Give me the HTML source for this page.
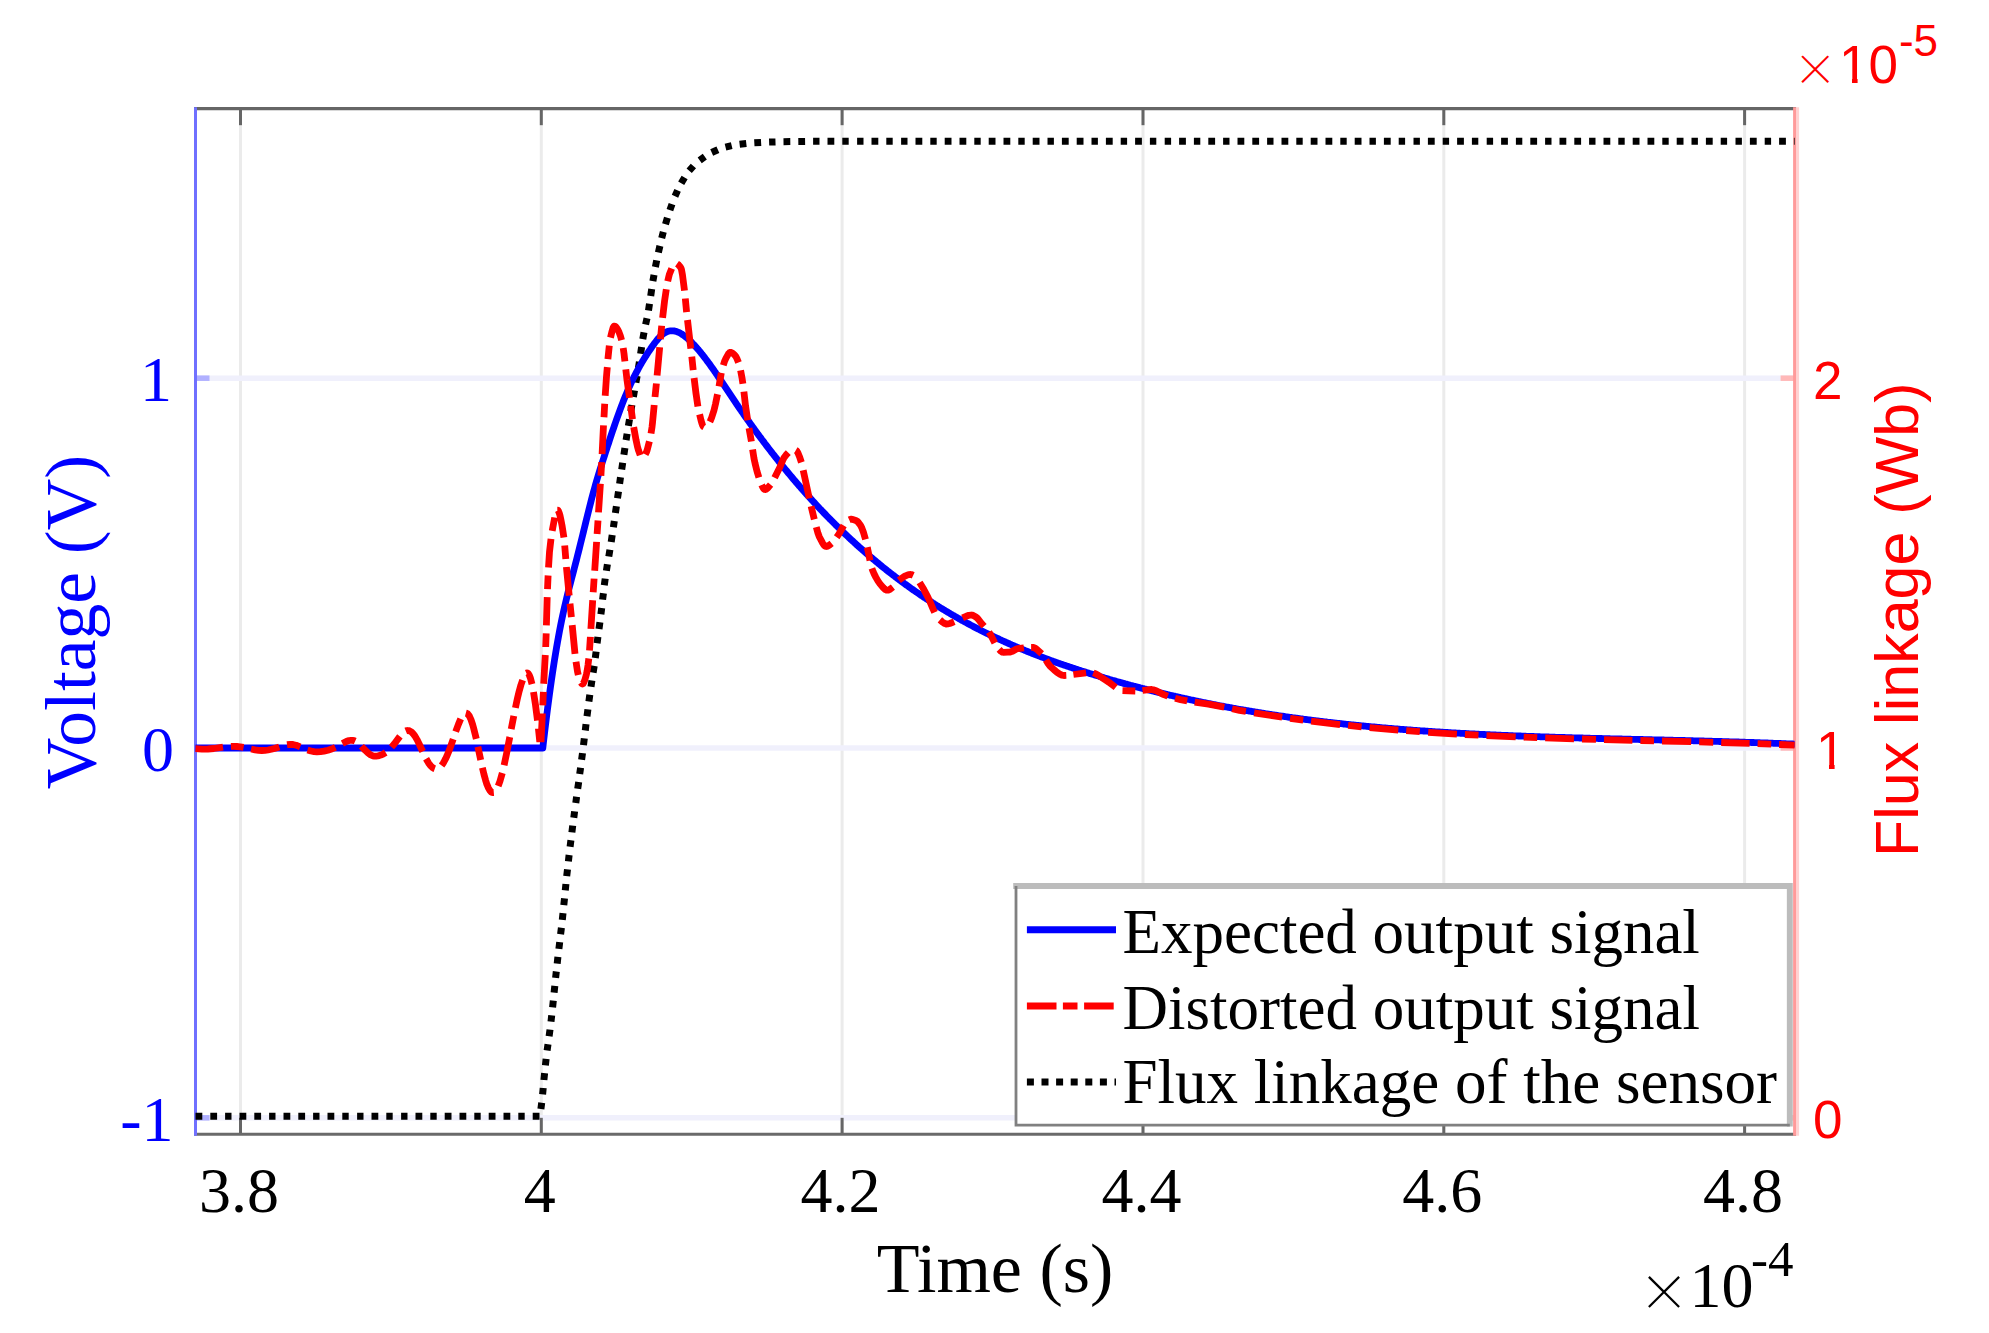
<!DOCTYPE html>
<html><head><meta charset="utf-8"><title>Plot</title>
<style>html,body{margin:0;padding:0;background:#fff;width:1989px;height:1333px;overflow:hidden}svg{display:block}</style>
</head><body>
<svg width="1989" height="1333" viewBox="0 0 1989 1333">
<rect width="1989" height="1333" fill="#fff"/>
<defs><clipPath id="ax"><rect x="194.0" y="108.7" width="1601.6" height="1025.6"/></clipPath><clipPath id="one1"><rect x="0" y="0" width="1989" height="764.9"/><rect x="1829" y="700" width="5.6" height="80"/></clipPath><clipPath id="one2"><rect x="0" y="0" width="1989" height="78.1"/><rect x="1852" y="30" width="5.6" height="60"/></clipPath></defs>
<line x1="240.5" y1="108.7" x2="240.5" y2="1134.3" stroke="#ebebeb" stroke-width="3"/>
<line x1="541.3" y1="108.7" x2="541.3" y2="1134.3" stroke="#ebebeb" stroke-width="3"/>
<line x1="842.1" y1="108.7" x2="842.1" y2="1134.3" stroke="#ebebeb" stroke-width="3"/>
<line x1="1143.0" y1="108.7" x2="1143.0" y2="1134.3" stroke="#ebebeb" stroke-width="3"/>
<line x1="1443.8" y1="108.7" x2="1443.8" y2="1134.3" stroke="#ebebeb" stroke-width="3"/>
<line x1="1744.6" y1="108.7" x2="1744.6" y2="1134.3" stroke="#ebebeb" stroke-width="3"/>
<line x1="195.5" y1="378.2" x2="1794.6" y2="378.2" stroke="#f0f0fc" stroke-width="5.5"/>
<line x1="195.5" y1="748.0" x2="1794.6" y2="748.0" stroke="#f0f0fc" stroke-width="5.5"/>
<line x1="195.5" y1="1117.8" x2="1794.6" y2="1117.8" stroke="#f0f0fc" stroke-width="5.5"/>
<line x1="240.5" y1="108.7" x2="240.5" y2="125.2" stroke="#666" stroke-width="3"/>
<line x1="240.5" y1="1134.3" x2="240.5" y2="1117.8" stroke="#666" stroke-width="3"/>
<line x1="541.3" y1="108.7" x2="541.3" y2="125.2" stroke="#666" stroke-width="3"/>
<line x1="541.3" y1="1134.3" x2="541.3" y2="1117.8" stroke="#666" stroke-width="3"/>
<line x1="842.1" y1="108.7" x2="842.1" y2="125.2" stroke="#666" stroke-width="3"/>
<line x1="842.1" y1="1134.3" x2="842.1" y2="1117.8" stroke="#666" stroke-width="3"/>
<line x1="1143.0" y1="108.7" x2="1143.0" y2="125.2" stroke="#666" stroke-width="3"/>
<line x1="1143.0" y1="1134.3" x2="1143.0" y2="1117.8" stroke="#666" stroke-width="3"/>
<line x1="1443.8" y1="108.7" x2="1443.8" y2="125.2" stroke="#666" stroke-width="3"/>
<line x1="1443.8" y1="1134.3" x2="1443.8" y2="1117.8" stroke="#666" stroke-width="3"/>
<line x1="1744.6" y1="108.7" x2="1744.6" y2="125.2" stroke="#666" stroke-width="3"/>
<line x1="1744.6" y1="1134.3" x2="1744.6" y2="1117.8" stroke="#666" stroke-width="3"/>
<line x1="195.5" y1="378.2" x2="209.5" y2="378.2" stroke="#b0b0ff" stroke-width="5.5"/>
<line x1="1794.6" y1="378.2" x2="1780.6" y2="378.2" stroke="#ffb8b8" stroke-width="5.5"/>
<line x1="195.5" y1="748.0" x2="209.5" y2="748.0" stroke="#b0b0ff" stroke-width="5.5"/>
<line x1="1794.6" y1="748.0" x2="1780.6" y2="748.0" stroke="#ffb8b8" stroke-width="5.5"/>
<line x1="195.5" y1="1117.8" x2="209.5" y2="1117.8" stroke="#b0b0ff" stroke-width="5.5"/>
<line x1="1794.6" y1="1117.8" x2="1780.6" y2="1117.8" stroke="#ffb8b8" stroke-width="5.5"/>
<line x1="194.0" y1="108.7" x2="1796.1" y2="108.7" stroke="#666" stroke-width="3.2"/>
<line x1="194.0" y1="1134.3" x2="1796.1" y2="1134.3" stroke="#6a6a6a" stroke-width="2.9"/>
<line x1="1797.6" y1="107.2" x2="1797.6" y2="1135.8" stroke="#ffd2d2" stroke-width="3"/>
<line x1="1794.6" y1="107.2" x2="1794.6" y2="1135.8" stroke="#ff9a9a" stroke-width="3"/>
<line x1="195.5" y1="107.2" x2="195.5" y2="1135.8" stroke="#7070ff" stroke-width="3"/>
<g clip-path="url(#ax)" fill="none">
<path d="M195.5,1116.3 L202.3,1116.3 M210.3,1116.3 L217.1,1116.3 M225.1,1116.3 L231.5,1116.3 M239.5,1116.3 L246.3,1116.3 M254.3,1116.3 L261.1,1116.3 M269.1,1116.3 L275.5,1116.3 M283.5,1116.3 L290.3,1116.3 M298.3,1116.3 L305.1,1116.3 M313.1,1116.3 L319.5,1116.3 M327.5,1116.3 L334.3,1116.3 M342.3,1116.3 L348.7,1116.3 M357.1,1116.3 L363.5,1116.3 M371.5,1116.3 L378.3,1116.3 M386.3,1116.3 L392.7,1116.3 M401.1,1116.3 L407.5,1116.3 M415.5,1116.3 L422.3,1116.3 M430.3,1116.3 L436.7,1116.3 M444.7,1116.3 L451.5,1116.3 M459.5,1116.3 L466.3,1116.3 M474.3,1116.3 L480.7,1116.3 M488.7,1116.3 L495.5,1116.3 M503.5,1116.3 L510.3,1116.3 M518.3,1116.3 L524.7,1116.3 M532.7,1116.3 L539.5,1116.3 M540.9,1109.0 L541.7,1102.7 M542.6,1094.3 L543.2,1088.0 M543.9,1080.0 L544.6,1073.2 M545.4,1065.3 L546.1,1058.9 M547.1,1050.6 L548.0,1044.2 M549.1,1036.3 L550.0,1029.6 M551.0,1021.6 L551.7,1015.3 M552.6,1007.3 L553.3,1000.6 M554.1,992.6 L554.8,985.8 M555.6,977.9 L556.3,971.5 M557.2,963.6 L557.9,956.8 M558.9,948.9 L559.7,942.1 M560.6,934.2 L561.4,927.8 M562.3,919.8 L563.0,913.1 M563.8,905.1 L564.5,898.4 M565.3,890.4 L565.9,884.0 M566.7,876.1 L567.5,869.3 M568.4,861.4 L569.1,855.0 M570.1,846.7 L570.9,840.3 M571.9,832.4 L572.7,825.6 M573.8,817.7 L574.6,811.4 M575.8,803.0 L576.6,796.7 M577.7,788.8 L578.7,782.0 M579.7,774.1 L580.6,767.8 M581.6,759.8 L582.5,753.1 M583.5,745.1 L584.3,738.4 M585.3,730.5 L586.0,724.1 M587.0,716.2 L587.9,709.4 M588.9,701.5 L589.8,694.7 M591.0,686.8 L591.9,680.5 M593.1,672.6 L594.2,665.9 M595.3,658.0 L596.1,651.6 M597.1,643.3 L597.9,636.9 M599.0,629.0 L599.9,622.3 M600.9,614.3 L601.7,608.0 M602.6,599.6 L603.4,593.3 M604.3,585.3 L605.2,578.6 M606.4,570.7 L607.4,564.3 M608.8,556.5 L609.9,549.8 M611.2,541.9 L612.2,535.1 M613.4,527.2 L614.3,520.9 M615.4,513.0 L616.4,506.2 M617.5,498.3 L618.5,491.6 M619.6,483.7 L620.5,477.3 M621.7,469.4 L622.7,462.7 M623.9,454.8 L624.9,448.1 M626.1,440.1 L627.1,433.8 M628.4,425.9 L629.5,419.2 M630.8,411.3 L631.9,405.0 M633.4,396.8 L634.5,390.5 M635.9,382.6 L637.1,375.9 M638.4,368.0 L639.4,361.7 M640.6,353.8 L641.6,347.0 M642.8,339.1 L644.0,332.4 M645.6,324.6 L647.0,318.3 M648.5,310.5 L649.5,303.8 M650.7,295.9 L651.7,289.1 M652.9,281.2 L654.0,274.9 M655.4,267.0 L656.7,260.4 M658.4,252.5 L659.9,245.9 M661.7,238.1 L663.3,231.9 M665.5,224.2 L667.4,217.7 M669.9,210.1 L672.0,204.1 M675.0,196.2 L677.6,190.4 M681.2,183.2 L684.6,177.4 M689.2,170.8 L693.4,166.0 M699.7,160.3 L704.8,156.6 M711.7,152.5 L715.0,151.0 L717.9,149.7 M725.5,147.1 L731.7,145.6 M739.6,144.2 L746.3,143.4 M754.3,142.8 L761.1,142.4 M769.1,142.1 L775.5,141.9 M783.5,141.7 L790.3,141.6 M798.3,141.5 L805.1,141.4 M813.1,141.3 L819.5,141.3 M827.5,141.3 L834.3,141.3 M842.3,141.3 L848.7,141.3 M857.1,141.3 L863.5,141.3 M871.5,141.3 L878.3,141.3 M886.3,141.3 L892.7,141.3 M901.1,141.3 L907.5,141.3 M915.5,141.3 L922.3,141.3 M930.3,141.3 L936.7,141.3 M944.7,141.3 L951.5,141.3 M959.5,141.3 L966.3,141.3 M974.3,141.3 L980.7,141.3 M988.7,141.3 L995.5,141.3 M1003.5,141.3 L1010.3,141.3 M1018.3,141.3 L1024.7,141.3 M1032.7,141.3 L1039.5,141.3 M1047.5,141.3 L1053.9,141.3 M1061.9,141.3 L1068.7,141.3 M1076.7,141.3 L1083.5,141.3 M1091.5,141.3 L1097.9,141.3 M1105.9,141.3 L1112.7,141.3 M1120.7,141.3 L1127.1,141.3 M1135.1,141.3 L1141.9,141.3 M1149.9,141.3 L1156.3,141.3 M1164.7,141.3 L1171.1,141.3 M1179.1,141.3 L1185.9,141.3 M1193.9,141.3 L1200.3,141.3 M1208.3,141.3 L1215.1,141.3 M1223.1,141.3 L1229.5,141.3 M1237.5,141.3 L1244.3,141.3 M1252.3,141.3 L1259.1,141.3 M1267.1,141.3 L1273.5,141.3 M1281.5,141.3 L1288.3,141.3 M1296.3,141.3 L1302.7,141.3 M1310.7,141.3 L1317.5,141.3 M1325.5,141.3 L1332.3,141.3 M1340.3,141.3 L1346.7,141.3 M1354.7,141.3 L1361.5,141.3 M1369.5,141.3 L1375.9,141.3 M1383.9,141.3 L1390.7,141.3 M1398.7,141.3 L1405.1,141.3 M1413.5,141.3 L1419.9,141.3 M1427.9,141.3 L1434.7,141.3 M1442.7,141.3 L1449.1,141.3 M1457.1,141.3 L1463.9,141.3 M1471.9,141.3 L1478.3,141.3 M1486.7,141.3 L1493.1,141.3 M1501.1,141.3 L1507.9,141.3 M1515.9,141.3 L1522.3,141.3 M1530.3,141.3 L1537.1,141.3 M1545.1,141.3 L1551.5,141.3 M1559.5,141.3 L1566.3,141.3 M1574.3,141.3 L1581.1,141.3 M1589.1,141.3 L1595.5,141.3 M1603.5,141.3 L1610.3,141.3 M1618.3,141.3 L1624.7,141.3 M1632.7,141.3 L1639.5,141.3 M1647.5,141.3 L1654.3,141.3 M1662.3,141.3 L1668.7,141.3 M1676.7,141.3 L1683.5,141.3 M1691.5,141.3 L1697.9,141.3 M1705.9,141.3 L1712.7,141.3 M1720.7,141.3 L1727.1,141.3 M1735.5,141.3 L1741.9,141.3 M1749.9,141.3 L1756.7,141.3 M1764.7,141.3 L1771.1,141.3 M1779.1,141.3 L1785.9,141.3 M1793.9,141.3 L1794.6,141.3" stroke="#000" stroke-width="7"/>
<polyline points="195.5,748.0 542.8,748.0 543.5,741.9 544.5,733.4 545.5,725.1 546.5,717.0 547.5,709.1 548.5,701.5 549.5,694.0 550.5,686.8 551.5,679.8 552.5,673.0 553.5,666.4 554.5,660.0 555.5,653.9 556.5,647.9 557.5,642.1 558.5,636.6 559.5,631.2 560.5,626.0 561.5,621.0 562.5,616.3 563.5,611.6 564.5,607.2 565.5,602.9 566.5,598.7 567.5,594.6 568.5,590.6 569.5,586.7 570.5,582.8 571.5,578.9 572.5,575.1 573.5,571.3 574.5,567.5 575.5,563.6 576.5,559.8 577.5,555.8 578.5,551.9 579.5,547.9 580.5,543.8 581.5,539.8 582.5,535.7 583.5,531.6 584.5,527.5 585.5,523.4 586.5,519.3 587.5,515.2 588.5,511.2 589.5,507.2 590.5,503.3 591.5,499.4 592.5,495.6 593.5,491.9 594.5,488.3 595.5,484.7 596.5,481.3 597.5,477.9 598.5,474.6 599.5,471.3 600.5,468.1 601.5,464.9 602.5,461.8 603.5,458.7 604.5,455.6 605.5,452.5 606.5,449.4 607.5,446.3 608.5,443.3 609.5,440.2 610.5,437.2 611.5,434.2 612.5,431.2 613.5,428.3 614.5,425.4 615.5,422.5 616.5,419.7 617.5,416.9 618.5,414.1 619.5,411.3 620.5,408.6 621.5,406.0 622.5,403.4 623.5,400.8 624.5,398.3 625.5,395.9 626.5,393.5 627.5,391.1 628.5,388.8 629.5,386.5 630.5,384.4 631.5,382.2 632.5,380.1 633.5,378.0 634.5,376.0 635.5,374.1 636.5,372.2 637.5,370.3 638.5,368.4 639.5,366.6 640.5,364.9 641.5,363.1 642.5,361.4 643.5,359.8 644.5,358.1 645.5,356.5 646.5,355.0 647.5,353.4 648.5,351.9 649.5,350.4 650.5,349.0 651.5,347.5 652.5,346.1 653.5,344.7 654.5,343.3 655.5,342.0 656.5,340.7 657.5,339.5 658.5,338.3 659.5,337.2 660.5,336.2 661.5,335.3 662.5,334.4 663.5,333.6 664.5,333.0 665.5,332.4 666.5,331.9 667.5,331.5 668.5,331.2 669.5,331.0 670.5,330.8 671.5,330.8 672.5,330.8 673.5,330.9 674.5,331.0 675.5,331.3 676.5,331.6 677.5,331.9 678.5,332.3 679.5,332.8 680.5,333.3 681.5,333.9 682.5,334.6 683.5,335.3 684.5,336.0 685.5,336.8 686.5,337.6 687.5,338.4 688.5,339.3 689.5,340.3 690.5,341.2 691.5,342.2 692.5,343.3 693.5,344.3 694.5,345.4 695.5,346.5 696.5,347.6 697.5,348.8 698.5,349.9 699.5,351.1 700.5,352.3 701.5,353.6 702.5,354.8 703.5,356.1 704.5,357.4 705.5,358.7 706.5,360.0 707.5,361.4 708.5,362.7 709.5,364.1 710.5,365.5 711.5,366.9 712.5,368.3 713.5,369.7 714.5,371.2 715.5,372.6 716.5,374.1 717.5,375.5 718.5,377.0 719.5,378.5 720.5,379.9 721.5,381.4 722.5,382.9 723.5,384.4 724.5,385.9 725.5,387.4 726.5,388.9 727.5,390.4 728.5,391.9 729.5,393.4 730.5,394.9 731.5,396.4 732.5,397.9 733.5,399.4 734.5,400.9 735.5,402.4 736.5,403.9 737.5,405.3 738.5,406.8 739.5,408.3 740.5,409.7 741.5,411.2 742.5,412.6 743.5,414.0 744.5,415.5 745.5,416.9 746.5,418.3 747.5,419.7 748.5,421.1 749.5,422.5 750.5,423.9 751.5,425.3 752.5,426.7 753.5,428.1 754.5,429.5 755.5,430.9 756.5,432.2 757.5,433.6 758.5,434.9 759.5,436.3 760.5,437.6 761.5,439.0 762.5,440.3 763.5,441.6 764.5,443.0 765.5,444.3 766.5,445.6 767.5,446.9 768.5,448.2 769.5,449.5 770.5,450.8 771.5,452.1 772.5,453.4 773.5,454.6 774.5,455.9 775.5,457.2 776.5,458.4 777.5,459.7 778.5,461.0 779.5,462.2 780.5,463.5 781.5,464.7 782.5,465.9 783.5,467.2 784.5,468.4 785.5,469.6 786.5,470.8 787.5,472.0 788.5,473.2 789.5,474.4 790.5,475.6 791.5,476.8 792.5,478.0 793.5,479.2 794.5,480.4 795.5,481.5 796.5,482.7 797.5,483.9 798.5,485.0 799.5,486.2 800.5,487.3 801.5,488.5 802.5,489.6 803.5,490.7 804.5,491.9 805.5,493.0 806.5,494.1 807.5,495.2 808.5,496.3 809.5,497.4 810.5,498.5 811.5,499.6 812.5,500.7 813.5,501.8 814.5,502.9 815.5,504.0 816.5,505.1 817.5,506.1 818.5,507.2 819.5,508.3 820.5,509.3 821.5,510.4 822.5,511.4 823.5,512.5 824.5,513.5 825.5,514.5 826.5,515.6 827.5,516.6 828.5,517.6 829.5,518.6 830.5,519.7 831.5,520.7 832.5,521.7 833.5,522.7 834.5,523.7 835.5,524.7 836.5,525.6 837.5,526.6 838.5,527.6 839.5,528.6 840.5,529.6 841.5,530.5 842.5,531.5 843.5,532.5 844.5,533.4 845.5,534.4 846.5,535.3 847.5,536.2 848.5,537.2 849.5,538.1 850.5,539.1 851.5,540.0 852.5,540.9 853.5,541.8 854.5,542.7 855.5,543.6 856.5,544.6 857.5,545.5 858.5,546.4 859.5,547.3 860.5,548.1 861.5,549.0 862.5,549.9 863.5,550.8 864.5,551.7 865.5,552.5 866.5,553.4 867.5,554.3 868.5,555.1 869.5,556.0 870.5,556.8 871.5,557.7 872.5,558.5 873.5,559.4 874.5,560.2 875.5,561.0 876.5,561.9 877.5,562.7 878.5,563.5 879.5,564.3 880.5,565.2 881.5,566.0 882.5,566.8 883.5,567.6 884.5,568.4 885.5,569.2 886.5,570.0 887.5,570.8 888.5,571.6 889.5,572.3 890.5,573.1 891.5,573.9 892.5,574.7 893.5,575.4 894.5,576.2 895.5,577.0 896.5,577.7 897.5,578.5 898.5,579.2 899.5,580.0 900.5,580.7 901.5,581.5 902.5,582.2 903.5,582.9 904.5,583.7 905.5,584.4 906.5,585.1 907.5,585.8 908.5,586.5 909.5,587.3 910.5,588.0 911.5,588.7 912.5,589.4 913.5,590.1 914.5,590.8 915.5,591.5 916.5,592.2 917.5,592.8 918.5,593.5 919.5,594.2 920.5,594.9 921.5,595.6 922.5,596.2 923.5,596.9 924.5,597.6 925.5,598.2 926.5,598.9 927.5,599.5 928.5,600.2 929.5,600.8 930.5,601.5 931.5,602.1 932.5,602.8 933.5,603.4 934.5,604.1 935.5,604.7 936.5,605.3 937.5,605.9 938.5,606.6 939.5,607.2 940.5,607.8 941.5,608.4 942.5,609.0 943.5,609.6 944.5,610.2 945.5,610.8 946.5,611.4 947.5,612.0 948.5,612.6 949.5,613.2 950.5,613.8 951.5,614.4 952.5,615.0 953.5,615.5 954.5,616.1 955.5,616.7 956.5,617.3 957.5,617.8 958.5,618.4 959.5,619.0 960.5,619.5 961.5,620.1 962.5,620.6 963.5,621.2 964.5,621.7 965.5,622.3 966.5,622.8 967.5,623.4 968.5,623.9 969.5,624.4 970.5,625.0 971.5,625.5 972.5,626.0 973.5,626.6 974.5,627.1 975.5,627.6 976.5,628.1 977.5,628.6 978.5,629.1 979.5,629.7 980.5,630.2 981.5,630.7 982.5,631.2 983.5,631.7 984.5,632.2 985.5,632.7 986.5,633.2 987.5,633.7 988.5,634.1 989.5,634.6 990.5,635.1 991.5,635.6 992.5,636.1 993.5,636.6 994.5,637.0 995.5,637.5 996.5,638.0 997.5,638.4 998.5,638.9 999.5,639.4 1000.5,639.8 1001.5,640.3 1002.5,640.7 1003.5,641.2 1004.5,641.6 1005.5,642.1 1006.5,642.5 1007.5,643.0 1008.5,643.4 1009.5,643.9 1010.5,644.3 1011.5,644.8 1012.5,645.2 1013.5,645.6 1014.5,646.1 1015.5,646.5 1016.5,646.9 1017.5,647.3 1018.5,647.8 1019.5,648.2 1020.5,648.6 1021.5,649.0 1022.5,649.4 1023.5,649.8 1024.5,650.3 1025.5,650.7 1026.5,651.1 1027.5,651.5 1028.5,651.9 1029.5,652.3 1030.5,652.7 1031.5,653.1 1032.5,653.5 1033.5,653.9 1034.5,654.3 1035.5,654.7 1036.5,655.0 1037.5,655.4 1038.5,655.8 1039.5,656.2 1040.5,656.6 1041.5,657.0 1042.5,657.3 1043.5,657.7 1044.5,658.1 1045.5,658.5 1046.5,658.8 1047.5,659.2 1048.5,659.6 1049.5,659.9 1050.5,660.3 1051.5,660.7 1052.5,661.0 1053.5,661.4 1054.5,661.7 1055.5,662.1 1056.5,662.5 1057.5,662.8 1058.5,663.2 1059.5,663.5 1060.5,663.9 1061.5,664.2 1062.5,664.6 1063.5,664.9 1064.5,665.3 1065.5,665.6 1066.5,665.9 1067.5,666.3 1068.5,666.6 1069.5,666.9 1070.5,667.3 1071.5,667.6 1072.5,667.9 1073.5,668.3 1074.5,668.6 1075.5,668.9 1076.5,669.3 1077.5,669.6 1078.5,669.9 1079.5,670.2 1080.5,670.6 1081.5,670.9 1082.5,671.2 1083.5,671.5 1084.5,671.8 1085.5,672.1 1086.5,672.5 1087.5,672.8 1088.5,673.1 1089.5,673.4 1090.5,673.7 1091.5,674.0 1092.5,674.3 1093.5,674.6 1094.5,674.9 1095.5,675.2 1096.5,675.5 1097.5,675.8 1098.5,676.1 1099.5,676.4 1100.5,676.7 1101.5,677.0 1102.5,677.3 1103.5,677.6 1104.5,677.9 1105.5,678.2 1106.5,678.5 1107.5,678.8 1108.5,679.1 1109.5,679.4 1110.5,679.7 1111.5,680.0 1112.5,680.3 1113.5,680.5 1114.5,680.8 1115.5,681.1 1116.5,681.4 1117.5,681.7 1118.5,682.0 1119.5,682.2 1120.5,682.5 1121.5,682.8 1122.5,683.1 1123.5,683.4 1124.5,683.6 1125.5,683.9 1126.5,684.2 1127.5,684.4 1128.5,684.7 1129.5,685.0 1130.5,685.3 1131.5,685.5 1132.5,685.8 1133.5,686.1 1134.5,686.3 1135.5,686.6 1136.5,686.9 1137.5,687.1 1138.5,687.4 1139.5,687.6 1140.5,687.9 1141.5,688.2 1142.5,688.4 1143.5,688.7 1144.5,688.9 1145.5,689.2 1146.5,689.4 1147.5,689.7 1148.5,690.0 1149.5,690.2 1150.5,690.5 1151.5,690.7 1152.5,691.0 1153.5,691.2 1154.5,691.4 1155.5,691.7 1156.5,691.9 1157.5,692.2 1158.5,692.4 1159.5,692.7 1160.5,692.9 1161.5,693.2 1162.5,693.4 1163.5,693.6 1164.5,693.9 1165.5,694.1 1166.5,694.3 1167.5,694.6 1168.5,694.8 1169.5,695.1 1170.5,695.3 1171.5,695.5 1172.5,695.7 1173.5,696.0 1174.5,696.2 1175.5,696.4 1176.5,696.7 1177.5,696.9 1178.5,697.1 1179.5,697.3 1180.5,697.6 1181.5,697.8 1182.5,698.0 1183.5,698.2 1184.5,698.5 1185.5,698.7 1186.5,698.9 1187.5,699.1 1188.5,699.3 1189.5,699.5 1190.5,699.8 1191.5,700.0 1192.5,700.2 1193.5,700.4 1194.5,700.6 1195.5,700.8 1196.5,701.0 1197.5,701.2 1198.5,701.5 1199.5,701.7 1200.5,701.9 1201.5,702.1 1202.5,702.3 1203.5,702.5 1204.5,702.7 1205.5,702.9 1206.5,703.1 1207.5,703.3 1208.5,703.5 1209.5,703.7 1210.5,703.9 1211.5,704.1 1212.5,704.3 1213.5,704.5 1214.5,704.7 1215.5,704.9 1216.5,705.1 1217.5,705.3 1218.5,705.5 1219.5,705.7 1220.5,705.8 1221.5,706.0 1222.5,706.2 1223.5,706.4 1224.5,706.6 1225.5,706.8 1226.5,707.0 1227.5,707.2 1228.5,707.4 1229.5,707.5 1230.5,707.7 1231.5,707.9 1232.5,708.1 1233.5,708.3 1234.5,708.4 1235.5,708.6 1236.5,708.8 1237.5,709.0 1238.5,709.2 1239.5,709.3 1240.5,709.5 1241.5,709.7 1242.5,709.9 1243.5,710.0 1244.5,710.2 1245.5,710.4 1246.5,710.6 1247.5,710.7 1248.5,710.9 1249.5,711.1 1250.5,711.2 1251.5,711.4 1252.5,711.6 1253.5,711.7 1254.5,711.9 1255.5,712.1 1256.5,712.2 1257.5,712.4 1258.5,712.6 1259.5,712.7 1260.5,712.9 1261.5,713.0 1262.5,713.2 1263.5,713.4 1264.5,713.5 1265.5,713.7 1266.5,713.8 1267.5,714.0 1268.5,714.1 1269.5,714.3 1270.5,714.4 1271.5,714.6 1272.5,714.8 1273.5,714.9 1274.5,715.1 1275.5,715.2 1276.5,715.4 1277.5,715.5 1278.5,715.7 1279.5,715.8 1280.5,716.0 1281.5,716.1 1282.5,716.2 1283.5,716.4 1284.5,716.5 1285.5,716.7 1286.5,716.8 1287.5,717.0 1288.5,717.1 1289.5,717.3 1290.5,717.4 1291.5,717.5 1292.5,717.7 1293.5,717.8 1294.5,717.9 1295.5,718.1 1296.5,718.2 1297.5,718.4 1298.5,718.5 1299.5,718.6 1300.5,718.8 1301.5,718.9 1302.5,719.0 1303.5,719.2 1304.5,719.3 1305.5,719.4 1306.5,719.6 1307.5,719.7 1308.5,719.8 1309.5,719.9 1310.5,720.1 1311.5,720.2 1312.5,720.3 1313.5,720.5 1314.5,720.6 1315.5,720.7 1316.5,720.8 1317.5,720.9 1318.5,721.1 1319.5,721.2 1320.5,721.3 1321.5,721.4 1322.5,721.6 1323.5,721.7 1324.5,721.8 1325.5,721.9 1326.5,722.0 1327.5,722.2 1328.5,722.3 1329.5,722.4 1330.5,722.5 1331.5,722.6 1332.5,722.7 1333.5,722.8 1334.5,723.0 1335.5,723.1 1336.5,723.2 1337.5,723.3 1338.5,723.4 1339.5,723.5 1340.5,723.6 1341.5,723.7 1342.5,723.8 1343.5,724.0 1344.5,724.1 1345.5,724.2 1346.5,724.3 1347.5,724.4 1348.5,724.5 1349.5,724.6 1350.5,724.7 1351.5,724.8 1352.5,724.9 1353.5,725.0 1354.5,725.1 1355.5,725.2 1356.5,725.3 1357.5,725.4 1358.5,725.5 1359.5,725.6 1360.5,725.7 1361.5,725.8 1362.5,725.9 1363.5,726.0 1364.5,726.1 1365.5,726.2 1366.5,726.3 1367.5,726.4 1368.5,726.5 1369.5,726.6 1370.5,726.7 1371.5,726.8 1372.5,726.9 1373.5,727.0 1374.5,727.0 1375.5,727.1 1376.5,727.2 1377.5,727.3 1378.5,727.4 1379.5,727.5 1380.5,727.6 1381.5,727.7 1382.5,727.8 1383.5,727.9 1384.5,727.9 1385.5,728.0 1386.5,728.1 1387.5,728.2 1388.5,728.3 1389.5,728.4 1390.5,728.5 1391.5,728.5 1392.5,728.6 1393.5,728.7 1394.5,728.8 1395.5,728.9 1396.5,728.9 1397.5,729.0 1398.5,729.1 1399.5,729.2 1400.5,729.3 1401.5,729.3 1402.5,729.4 1403.5,729.5 1404.5,729.6 1405.5,729.7 1406.5,729.7 1407.5,729.8 1408.5,729.9 1409.5,730.0 1410.5,730.0 1411.5,730.1 1412.5,730.2 1413.5,730.3 1414.5,730.3 1415.5,730.4 1416.5,730.5 1417.5,730.6 1418.5,730.6 1419.5,730.7 1420.5,730.8 1421.5,730.8 1422.5,730.9 1423.5,731.0 1424.5,731.0 1425.5,731.1 1426.5,731.2 1427.5,731.2 1428.5,731.3 1429.5,731.4 1430.5,731.5 1431.5,731.5 1432.5,731.6 1433.5,731.6 1434.5,731.7 1435.5,731.8 1436.5,731.8 1437.5,731.9 1438.5,732.0 1439.5,732.0 1440.5,732.1 1441.5,732.2 1442.5,732.2 1443.5,732.3 1444.5,732.3 1445.5,732.4 1446.5,732.5 1447.5,732.5 1448.5,732.6 1449.5,732.6 1450.5,732.7 1451.5,732.8 1452.5,732.8 1453.5,732.9 1454.5,732.9 1455.5,733.0 1456.5,733.1 1457.5,733.1 1458.5,733.2 1459.5,733.2 1460.5,733.3 1461.5,733.3 1462.5,733.4 1463.5,733.4 1464.5,733.5 1465.5,733.5 1466.5,733.6 1467.5,733.7 1468.5,733.7 1469.5,733.8 1470.5,733.8 1471.5,733.9 1472.5,733.9 1473.5,734.0 1474.5,734.0 1475.5,734.1 1476.5,734.1 1477.5,734.2 1478.5,734.2 1479.5,734.3 1480.5,734.3 1481.5,734.4 1482.5,734.4 1483.5,734.5 1484.5,734.5 1485.5,734.6 1486.5,734.6 1487.5,734.7 1488.5,734.7 1489.5,734.7 1490.5,734.8 1491.5,734.8 1492.5,734.9 1493.5,734.9 1494.5,735.0 1495.5,735.0 1496.5,735.1 1497.5,735.1 1498.5,735.1 1499.5,735.2 1500.5,735.2 1501.5,735.3 1502.5,735.3 1503.5,735.4 1504.5,735.4 1505.5,735.4 1506.5,735.5 1507.5,735.5 1508.5,735.6 1509.5,735.6 1510.5,735.7 1511.5,735.7 1512.5,735.7 1513.5,735.8 1514.5,735.8 1515.5,735.9 1516.5,735.9 1517.5,735.9 1518.5,736.0 1519.5,736.0 1520.5,736.0 1521.5,736.1 1522.5,736.1 1523.5,736.2 1524.5,736.2 1525.5,736.2 1526.5,736.3 1527.5,736.3 1528.5,736.3 1529.5,736.4 1530.5,736.4 1531.5,736.5 1532.5,736.5 1533.5,736.5 1534.5,736.6 1535.5,736.6 1536.5,736.6 1537.5,736.7 1538.5,736.7 1539.5,736.7 1540.5,736.8 1541.5,736.8 1542.5,736.8 1543.5,736.9 1544.5,736.9 1545.5,736.9 1546.5,737.0 1547.5,737.0 1548.5,737.0 1549.5,737.1 1550.5,737.1 1551.5,737.1 1552.5,737.2 1553.5,737.2 1554.5,737.2 1555.5,737.3 1556.5,737.3 1557.5,737.3 1558.5,737.3 1559.5,737.4 1560.5,737.4 1561.5,737.4 1562.5,737.5 1563.5,737.5 1564.5,737.5 1565.5,737.6 1566.5,737.6 1567.5,737.6 1568.5,737.6 1569.5,737.7 1570.5,737.7 1571.5,737.7 1572.5,737.8 1573.5,737.8 1574.5,737.8 1575.5,737.8 1576.5,737.9 1577.5,737.9 1578.5,737.9 1579.5,738.0 1580.5,738.0 1581.5,738.0 1582.5,738.0 1583.5,738.1 1584.5,738.1 1585.5,738.1 1586.5,738.1 1587.5,738.2 1588.5,738.2 1589.5,738.2 1590.5,738.3 1591.5,738.3 1592.5,738.3 1593.5,738.3 1594.5,738.4 1595.5,738.4 1596.5,738.4 1597.5,738.4 1598.5,738.5 1599.5,738.5 1600.5,738.5 1601.5,738.5 1602.5,738.6 1603.5,738.6 1604.5,738.6 1605.5,738.6 1606.5,738.7 1607.5,738.7 1608.5,738.7 1609.5,738.7 1610.5,738.8 1611.5,738.8 1612.5,738.8 1613.5,738.8 1614.5,738.9 1615.5,738.9 1616.5,738.9 1617.5,738.9 1618.5,739.0 1619.5,739.0 1620.5,739.0 1621.5,739.0 1622.5,739.1 1623.5,739.1 1624.5,739.1 1625.5,739.1 1626.5,739.2 1627.5,739.2 1628.5,739.2 1629.5,739.2 1630.5,739.2 1631.5,739.3 1632.5,739.3 1633.5,739.3 1634.5,739.3 1635.5,739.4 1636.5,739.4 1637.5,739.4 1638.5,739.4 1639.5,739.5 1640.5,739.5 1641.5,739.5 1642.5,739.5 1643.5,739.6 1644.5,739.6 1645.5,739.6 1646.5,739.6 1647.5,739.6 1648.5,739.7 1649.5,739.7 1650.5,739.7 1651.5,739.7 1652.5,739.8 1653.5,739.8 1654.5,739.8 1655.5,739.8 1656.5,739.9 1657.5,739.9 1658.5,739.9 1659.5,739.9 1660.5,740.0 1661.5,740.0 1662.5,740.0 1663.5,740.0 1664.5,740.1 1665.5,740.1 1666.5,740.1 1667.5,740.1 1668.5,740.1 1669.5,740.2 1670.5,740.2 1671.5,740.2 1672.5,740.2 1673.5,740.3 1674.5,740.3 1675.5,740.3 1676.5,740.3 1677.5,740.4 1678.5,740.4 1679.5,740.4 1680.5,740.4 1681.5,740.5 1682.5,740.5 1683.5,740.5 1684.5,740.5 1685.5,740.6 1686.5,740.6 1687.5,740.6 1688.5,740.6 1689.5,740.7 1690.5,740.7 1691.5,740.7 1692.5,740.7 1693.5,740.8 1694.5,740.8 1695.5,740.8 1696.5,740.8 1697.5,740.9 1698.5,740.9 1699.5,740.9 1700.5,740.9 1701.5,741.0 1702.5,741.0 1703.5,741.0 1704.5,741.1 1705.5,741.1 1706.5,741.1 1707.5,741.1 1708.5,741.2 1709.5,741.2 1710.5,741.2 1711.5,741.2 1712.5,741.3 1713.5,741.3 1714.5,741.3 1715.5,741.4 1716.5,741.4 1717.5,741.4 1718.5,741.4 1719.5,741.5 1720.5,741.5 1721.5,741.5 1722.5,741.6 1723.5,741.6 1724.5,741.6 1725.5,741.6 1726.5,741.7 1727.5,741.7 1728.5,741.7 1729.5,741.8 1730.5,741.8 1731.5,741.8 1732.5,741.8 1733.5,741.9 1734.5,741.9 1735.5,741.9 1736.5,742.0 1737.5,742.0 1738.5,742.0 1739.5,742.1 1740.5,742.1 1741.5,742.1 1742.5,742.2 1743.5,742.2 1744.5,742.2 1745.5,742.3 1746.5,742.3 1747.5,742.3 1748.5,742.4 1749.5,742.4 1750.5,742.4 1751.5,742.5 1752.5,742.5 1753.5,742.5 1754.5,742.6 1755.5,742.6 1756.5,742.6 1757.5,742.7 1758.5,742.7 1759.5,742.7 1760.5,742.8 1761.5,742.8 1762.5,742.8 1763.5,742.9 1764.5,742.9 1765.5,742.9 1766.5,743.0 1767.5,743.0 1768.5,743.1 1769.5,743.1 1770.5,743.1 1771.5,743.2 1772.5,743.2 1773.5,743.3 1774.5,743.3 1775.5,743.3 1776.5,743.4 1777.5,743.4 1778.5,743.4 1779.5,743.5 1780.5,743.5 1781.5,743.6 1782.5,743.6 1783.5,743.6 1784.5,743.7 1785.5,743.7 1786.5,743.8 1787.5,743.8 1788.5,743.9 1789.5,743.9 1790.5,743.9 1791.5,744.0 1792.5,744.0 1793.5,744.1 1794.5,744.1 1794.6,744.1" stroke="#0000ff" stroke-width="6.8" stroke-linejoin="round"/>
<path d="M195.5,748.7 L201.9,749.1 L207.9,749.0 L213.9,748.5 L223.0,747.1 M230.9,746.4 L234.1,746.3 L236.9,746.5 L240.1,746.8 L243.6,747.4 M251.1,749.0 L255.0,749.8 L258.6,750.3 L261.8,750.5 L265.0,750.4 L268.1,750.0 L271.3,749.3 L274.3,748.5 L279.3,746.9 M287.0,744.7 L290.5,744.3 L292.9,744.5 L296.1,745.2 L300.2,746.8 M307.5,750.0 L310.9,751.0 L314.1,751.6 L316.9,751.8 L320.5,751.6 L324.0,751.1 L327.9,750.2 L331.7,749.0 L335.4,747.3 M342.4,743.5 L346.3,741.5 L347.8,740.9 L349.3,740.5 L350.9,740.3 L352.5,740.4 L354.1,740.7 L355.2,741.2 M361.4,746.2 L365.5,750.6 L368.1,753.0 L370.7,754.9 L372.9,755.8 L374.5,756.1 L376.1,756.1 L377.7,755.9 L379.2,755.6 L380.8,755.1 L382.6,754.4 L385.7,752.5 M391.5,747.1 L394.4,743.7 L399.9,736.4 M405.8,731.0 L406.5,730.7 L407.7,730.5 L408.5,730.6 L409.6,730.9 L411.4,731.9 L413.3,733.9 L415.0,736.1 L417.0,739.6 L419.3,744.2 L422.7,751.5 M426.1,758.7 L428.5,762.9 L430.6,765.8 L432.7,767.7 L433.7,768.3 L434.8,768.7 M441.6,765.4 L443.0,763.5 L444.0,761.8 L445.5,758.9 L446.9,756.0 L449.6,749.4 L453.2,739.2 M455.7,731.6 L458.5,724.1 L460.7,718.9 M465.8,713.1 L466.9,713.4 L467.6,713.8 L468.4,714.7 L469.5,716.3 L471.0,719.6 L472.4,723.8 L473.5,727.6 L476.3,738.9 M477.9,746.7 L480.7,760.0 M482.4,767.8 L484.0,774.5 L485.5,779.9 L486.9,784.4 L488.5,788.1 L489.9,790.5 L491.2,792.0 L491.9,792.4 L492.6,792.6 L493.8,792.5 M498.2,786.0 L500.0,781.1 L502.3,773.0 M504.1,765.2 L506.5,753.9 L509.8,737.0 M511.2,729.1 L513.8,715.8 M515.4,707.9 L517.4,698.5 L519.0,691.9 L520.9,685.0 L522.6,680.1 M526.3,673.1 L527.0,672.8 L527.7,673.1 L528.3,673.6 L529.0,674.6 L529.5,675.7 L530.5,678.3 L532.0,684.1 M533.5,692.0 L535.5,705.0 L537.5,720.5 M538.4,728.5 L539.8,742.0 M541.0,742.1 L542.4,713.4 M542.8,705.4 L543.4,691.8 M543.7,683.8 L545.3,655.0 M545.7,647.0 L546.2,633.4 M546.4,625.4 L547.2,597.1 M547.5,589.1 L548.1,575.5 M548.5,567.5 L549.5,551.9 L551.0,538.8 M552.2,530.9 L554.7,517.5 M557.3,510.1 L557.6,510.1 L558.0,510.3 L558.6,511.3 L559.4,513.5 L560.0,515.5 L561.0,520.2 L562.0,525.3 L563.9,537.5 M564.7,545.5 L565.8,559.0 M566.4,567.0 L569.2,595.7 M570.0,603.6 L571.4,617.2 M572.2,625.1 L575.0,653.8 M576.0,661.7 L577.5,671.6 L578.3,675.1 M581.0,682.6 L581.5,683.3 L582.0,683.8 L582.4,684.0 L583.1,683.6 L583.9,682.3 L585.0,679.3 L586.4,674.3 L587.0,671.5 L588.0,665.2 L588.8,658.5 M589.5,650.5 L590.4,636.9 M590.9,628.9 L592.7,600.2 M593.2,592.2 L594.1,578.6 M594.7,570.7 L596.6,541.9 M597.1,533.9 L598.0,520.4 M598.5,512.4 L600.4,483.7 M600.9,475.7 L601.7,462.1 M602.1,454.1 L603.5,425.3 M604.0,417.3 L604.7,403.8 M605.2,395.8 L606.5,376.6 L607.3,367.1 M607.9,359.1 L609.3,345.6 M610.5,337.6 L612.0,331.4 L613.0,328.0 L613.5,326.9 L614.0,326.2 L614.7,326.1 L615.5,326.4 L616.5,327.6 L617.6,329.3 L619.0,332.1 L620.4,335.9 L621.6,340.1 M623.2,347.9 L624.0,353.5 L624.9,361.4 M625.8,369.4 L627.0,380.1 L629.5,397.9 M630.7,405.8 L632.5,419.3 M633.7,427.2 L636.0,439.8 L637.5,446.9 L638.6,450.7 L640.2,455.2 M645.3,454.3 L646.4,452.2 L647.1,450.3 L649.4,441.4 M651.0,433.6 L652.0,427.2 L652.5,422.9 L654.2,405.0 M655.0,397.0 L656.4,383.5 M657.1,375.5 L659.7,347.2 M660.4,339.3 L661.7,325.7 M662.6,317.8 L664.5,301.5 L666.3,289.2 M667.7,281.3 L668.6,277.4 L669.5,273.9 L671.7,268.4 M677.0,263.8 L678.6,264.9 L679.9,266.4 L681.0,268.1 L681.5,269.6 L682.5,275.1 L684.5,290.6 M685.3,298.5 L686.6,312.1 M687.5,320.0 L690.8,348.6 M691.8,356.6 L693.2,370.1 M694.1,378.0 L696.0,393.5 L697.9,406.6 M699.6,414.4 L701.0,420.2 L702.0,423.7 L702.5,425.2 L703.1,426.2 L703.6,426.8 L704.0,427.0 M709.8,421.8 L710.5,420.4 L711.6,417.8 L714.0,410.2 L715.5,404.0 L717.5,394.2 M719.0,386.3 L721.3,372.9 M723.3,365.2 L724.5,361.4 L726.0,358.1 L728.4,353.9 L729.5,352.7 L730.2,352.4 L730.6,352.3 L731.3,352.5 L732.4,353.0 L733.9,354.3 L735.5,356.1 L736.0,356.7 L736.9,358.5 L738.5,362.6 M740.6,370.3 L742.0,377.8 L742.9,383.7 M743.9,391.7 L745.5,405.6 L747.7,420.2 M749.0,428.1 L751.4,441.5 M752.6,449.4 L754.0,458.5 L755.1,463.6 L757.0,471.3 L758.9,477.4 M761.7,484.9 L762.5,486.8 L763.5,488.5 L764.4,489.4 L765.1,489.6 L766.2,489.2 L767.5,488.3 L770.6,484.6 M774.6,477.7 L780.0,467.0 L782.9,460.0 L784.0,457.8 L786.1,454.9 L788.3,452.6 M795.8,450.3 L796.5,450.7 L797.0,451.3 L798.0,453.0 L799.5,456.7 L801.4,462.4 M803.2,470.2 L809.3,498.4 M811.1,506.2 L814.3,519.4 M816.3,527.1 L818.0,533.3 L819.4,537.0 L822.4,542.7 L823.4,544.4 L824.5,545.6 L825.1,546.1 L825.8,546.4 L826.6,546.5 L827.4,546.3 L829.1,545.3 L831.6,543.3 M836.7,537.2 L839.0,533.9 L843.7,525.5 M849.2,519.8 L850.3,519.3 L851.1,519.2 L853.4,519.6 L856.4,520.7 L857.4,521.4 L858.5,522.6 L859.7,524.2 L861.0,526.2 L862.0,528.3 L863.5,532.5 L865.5,539.4 M867.3,547.2 L870.0,560.5 M871.9,568.3 L873.0,571.3 L874.1,573.9 L875.9,577.4 L877.9,580.9 L880.0,583.9 L883.1,587.5 L884.5,588.9 L885.5,589.6 L886.6,590.1 L887.4,590.2 L888.2,590.1 L890.0,589.3 L892.9,587.1 M898.9,580.2 L903.8,576.8 L905.6,575.8 L907.4,575.0 L909.0,574.6 L910.6,574.5 L911.7,574.7 L913.2,575.4 M919.6,582.4 L923.9,589.6 L928.0,597.4 L929.5,600.6 L933.1,609.1 L934.6,612.4 M939.9,619.9 L942.0,621.7 L943.6,622.9 L945.0,623.6 L946.2,624.0 L947.8,623.9 L949.7,623.5 L951.6,622.8 L954.2,621.7 M962.6,617.9 L966.2,616.2 L968.8,615.3 L971.2,615.0 L972.0,615.1 L973.1,615.4 L975.9,617.0 L977.2,618.0 L978.5,619.5 L981.4,623.3 L984.1,626.3 M988.9,632.1 L990.0,633.8 L991.0,635.5 L994.8,643.0 M999.1,649.3 L1001.0,651.3 L1002.3,652.2 L1003.5,652.3 L1007.9,652.1 L1010.3,652.0 L1011.5,651.6 L1012.9,651.0 L1016.0,649.2 L1017.5,648.6 L1023.9,647.8 M1031.1,647.3 L1032.7,647.3 L1033.4,647.5 L1035.3,648.2 L1037.5,649.9 L1041.7,653.7 M1045.9,660.0 L1048.0,663.4 L1049.9,665.9 L1054.3,670.0 L1057.1,672.3 L1059.8,674.1 L1061.9,675.1 L1063.9,675.5 L1066.3,675.4 M1073.4,674.5 L1086.1,672.8 M1093.3,672.9 L1095.9,673.9 L1099.0,675.7 L1104.6,679.5 L1109.0,682.3 L1115.7,687.4 M1122.5,690.6 L1135.3,691.0 M1142.5,690.5 L1149.2,689.6 L1151.6,689.5 L1153.2,689.8 L1156.2,690.8 L1163.7,694.6 L1167.8,696.1 M1175.1,698.3 L1180.5,699.6 L1187.2,700.9 M1194.7,702.1 L1208.5,704.2 L1224.3,707.2 M1232.1,708.8 L1239.5,710.4 L1245.9,711.4 M1254.1,712.8 L1282.2,717.2 M1290.1,718.3 L1303.2,720.1 M1311.1,721.2 L1340.1,724.6 M1348.1,725.4 L1361.6,726.8 M1369.6,727.6 L1398.3,730.1 M1406.2,730.7 L1419.8,731.7 M1428.2,732.3 L1456.9,734.1 M1464.9,734.5 L1478.5,735.2 M1486.5,735.6 L1515.7,736.9 M1523.7,737.2 L1537.2,737.7 M1545.2,737.9 L1574.0,738.8 M1582.0,739.0 L1596.0,739.4 M1604.0,739.6 L1632.4,740.3 M1640.4,740.5 L1654.0,740.8 M1662.0,741.0 L1691.2,741.7 M1699.2,741.9 L1713.2,742.3 M1721.2,742.5 L1749.6,743.4 M1757.6,743.7 L1771.2,744.2 M1779.1,744.5 L1794.6,745.1" stroke="#ff0000" stroke-width="6.8" stroke-linejoin="round"/>
</g>
<rect x="1016" y="886" width="773.8" height="239.2" fill="#fff"/>
<path d="M1013.2,886 H1792.7 M1789.8,883.1 V1126.5" fill="none" stroke="#bcbcbc" stroke-width="5.9"/>
<path d="M1016,886 V1125.2 H1789.8" fill="none" stroke="#808080" stroke-width="2.8"/>
<line x1="1026.9" y1="929.7" x2="1116" y2="929.7" stroke="#0000ff" stroke-width="7"/>
<line x1="1026.9" y1="1006" x2="1116" y2="1006" stroke="#ff0000" stroke-width="7" stroke-dasharray="29.6 6.4 14.6 6.6"/>
<line x1="1026.9" y1="1082" x2="1116" y2="1082" stroke="#000" stroke-width="7" stroke-dasharray="7 7.6"/>
<g style="font-family:'Liberation Serif','Times New Roman',serif;font-size:63px" fill="#000">
<text x="1122.5" y="952.5">Expected output signal</text>
<text x="1122.5" y="1028.9">Distorted output signal</text>
<text x="1122.5" y="1103.3">Flux linkage of the sensor</text>
</g>
<g style="font-family:'Liberation Serif','Times New Roman',serif;font-size:64px" fill="#000" text-anchor="middle">
<text x="239.0" y="1212">3.8</text>
<text x="539.8" y="1212">4</text>
<text x="840.6" y="1212">4.2</text>
<text x="1141.5" y="1212">4.4</text>
<text x="1442.3" y="1212">4.6</text>
<text x="1743.1" y="1212">4.8</text>
</g>
<g style="font-family:'Liberation Serif','Times New Roman',serif;font-size:64px" fill="#0000ff" text-anchor="end">
<text x="172" y="401">1</text>
<text x="174" y="771">0</text>
<text x="173.5" y="1141">-1</text>
</g>
<g style="font-family:'Liberation Sans',Arial,Helvetica,sans-serif;font-size:53px" fill="#ff0000">
<text x="1813" y="398.5">2</text>
<text x="1816" y="768.9" clip-path="url(#one1)">1</text>
<text x="1813" y="1138">0</text>
</g>
<text x="1792.7" y="86" style="font-family:'Noto Serif CJK SC','Liberation Serif',serif;font-size:45px" fill="#ff0000">×</text>
<text x="1839" y="82.5" style="font-family:'Liberation Sans',Arial,Helvetica,sans-serif;font-size:53px" fill="#ff0000" clip-path="url(#one2)">1</text>
<text x="1868.5" y="82.5" style="font-family:'Liberation Sans',Arial,Helvetica,sans-serif;font-size:53px" fill="#ff0000">0</text>
<text x="1899" y="56.3" style="font-family:'Liberation Sans',Arial,Helvetica,sans-serif;font-size:44px" fill="#ff0000">-</text>
<text x="1913.5" y="56.3" style="font-family:'Liberation Sans',Arial,Helvetica,sans-serif;font-size:44px" fill="#ff0000">5</text>
<text x="1638" y="1311" style="font-family:'Noto Serif CJK SC','Liberation Serif',serif;font-size:52px" fill="#000">×</text>
<text x="1689.5" y="1307.2" style="font-family:'Liberation Serif','Times New Roman',serif;font-size:64px" fill="#000">10</text>
<text x="1751" y="1276.3" style="font-family:'Liberation Serif','Times New Roman',serif;font-size:51px" fill="#000">-4</text>
<text x="995" y="1291.8" text-anchor="middle" style="font-family:'Liberation Serif','Times New Roman',serif;font-size:70px" fill="#000">Time (s)</text>
<text transform="translate(94.9,622) rotate(-90)" text-anchor="middle" style="font-family:'Liberation Serif','Times New Roman',serif;font-size:71.5px" fill="#0000ff">Voltage (V)</text>
<text transform="translate(1918.3,619.8) rotate(-90)" text-anchor="middle" style="font-family:'Liberation Sans',Arial,Helvetica,sans-serif;font-size:61px" fill="#ff0000">Flux linkage (Wb)</text>
</svg>
</body></html>
